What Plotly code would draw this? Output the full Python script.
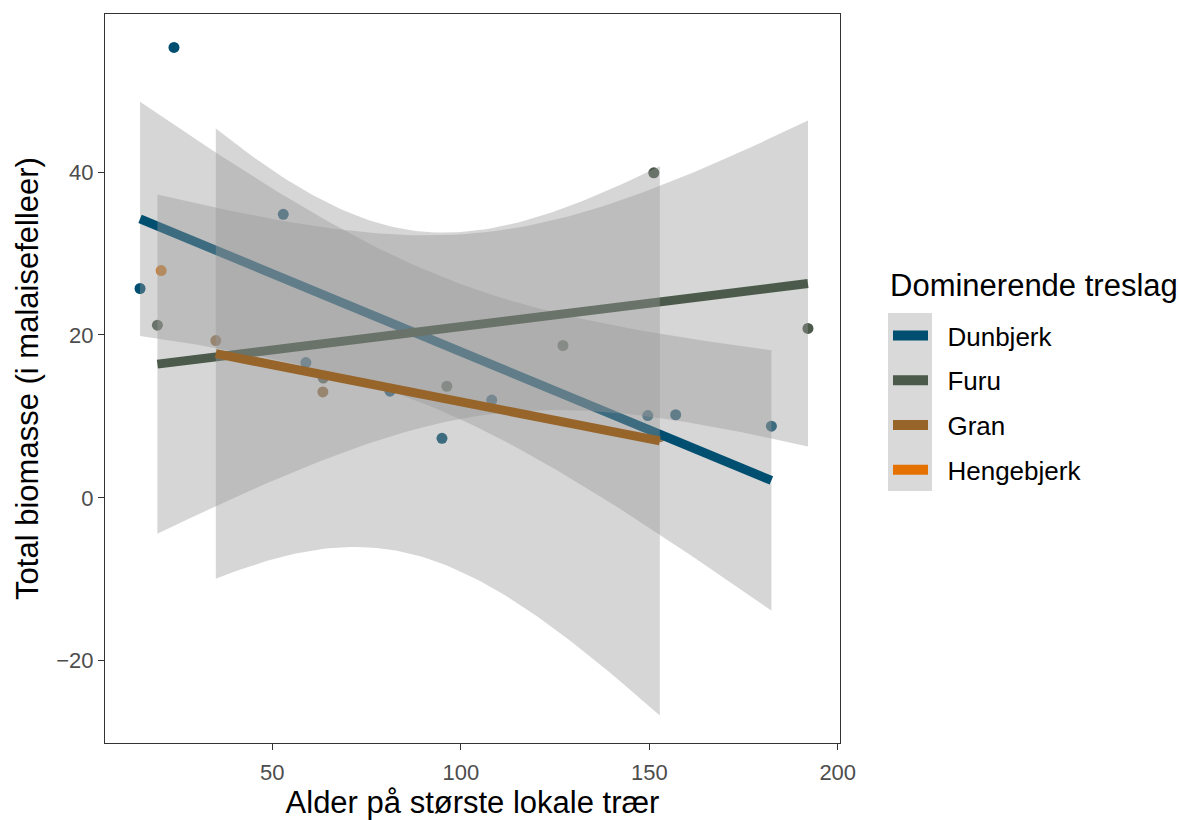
import numpy as np
import plotly.graph_objects as go

# ---------------- data ----------------
species = ["Dunbjerk", "Furu", "Gran", "Hengebjerk"]
species_colors = ["#004F71", "#4B5A4A", "#97652A", "#E57200"]

dunbjerk_age = [14.9, 23.9, 52.9, 58.9, 81.2, 95.0, 108.2, 149.6, 157.0, 182.4]
dunbjerk_biomass = [25.7, 55.3, 34.8, 16.6, 13.1, 7.3, 12.0, 10.1, 10.2, 8.8]

furu_age = [19.5, 63.5, 96.3, 127.1, 151.2, 192.1]
furu_biomass = [21.2, 14.7, 13.7, 18.7, 39.9, 20.8]

gran_age = [35.0, 63.4, 152.8]
gran_biomass = [19.3, 13.0, 7.5]

hengebjerk_age = [20.5]
hengebjerk_biomass = [27.9]

x_ticks = [50, 100, 150, 200]
y_ticks = [-20, 0, 20, 40]

x_title = "Alder på største lokale trær"
y_title = "Total biomasse (i malaisefelleer)"
legend_title = "Dominerende treslag"

groups = {
    "Dunbjerk": (dunbjerk_age, dunbjerk_biomass),
    "Furu": (furu_age, furu_biomass),
    "Gran": (gran_age, gran_biomass),
    "Hengebjerk": (hengebjerk_age, hengebjerk_biomass),
}
color_of = dict(zip(species, species_colors))

# two-sided 95% t quantiles
T975 = {1: 12.7062, 2: 4.3027, 3: 3.1824, 4: 2.7764, 5: 2.5706, 6: 2.4469,
        7: 2.3646, 8: 2.3060, 9: 2.2622, 10: 2.2281, 11: 2.2010, 12: 2.1788}


def lm_band(x, y, n=80):
    x = np.asarray(x, float)
    y = np.asarray(y, float)
    b1, b0 = np.polyfit(x, y, 1)
    xs = np.linspace(x.min(), x.max(), n)
    fit = b0 + b1 * xs
    resid = y - (b0 + b1 * x)
    df = len(x) - 2
    s = np.sqrt((resid ** 2).sum() / df)
    sxx = ((x - x.mean()) ** 2).sum()
    se = s * np.sqrt(1.0 / len(x) + (xs - x.mean()) ** 2 / sxx)
    t = T975[df]
    return xs, fit, fit - t * se, fit + t * se


FONT = "Liberation Sans, Arial, Helvetica, sans-serif"
fig = go.Figure()

# points first (under everything)
for sp in species:
    xs, ys = groups[sp]
    fig.add_trace(go.Scatter(x=xs, y=ys, mode="markers",
                             marker=dict(size=11, color=color_of[sp], line=dict(width=0)),
                             showlegend=False, hoverinfo="x+y", name=sp))

# ribbon + line per group
for sp in species:
    xs, ys = groups[sp]
    if len(xs) < 3:
        continue
    gx, fit, lo, hi = lm_band(xs, ys)
    fig.add_trace(go.Scatter(
        x=np.concatenate([gx, gx[::-1]]), y=np.concatenate([hi, lo[::-1]]),
        mode="lines", fill="toself", fillcolor="rgba(153,153,153,0.4)",
        line=dict(width=0), hoverinfo="skip", showlegend=False))
    fig.add_trace(go.Scatter(x=gx, y=fit, mode="lines",
                             line=dict(color=color_of[sp], width=9),
                             showlegend=False, hoverinfo="skip"))

# legend entries
for sp in species:
    fig.add_trace(go.Scatter(x=[None], y=[None], mode="lines+markers",
                             name="\u00a0\u00a0" + sp, legendgroup=sp,
                             line=dict(color=color_of[sp], width=11),
                             marker=dict(color=color_of[sp], size=5)))

# grey key background of the legend
fig.add_shape(type="rect", xref="paper", yref="paper",
              x0=(888 - 105) / 735, x1=(932 - 105) / 735,
              y0=(743 - 491) / 729, y1=(743 - 313) / 729,
              fillcolor="#D9D9D9", line=dict(width=0), layer="below")

# legend title
fig.add_annotation(text=legend_title, xref="paper", yref="paper",
                   x=(888 - 105) / 735, y=(743 - 285) / 729,
                   xanchor="left", yanchor="middle", showarrow=False,
                   font=dict(family=FONT, size=31, color="black"))

axis_common = dict(showgrid=False, zeroline=False, showline=True, linecolor="#333333",
                   linewidth=1.1, mirror=True, ticks="outside", ticklen=6,
                   tickcolor="#333333", tickwidth=1.1, automargin=False,
                   tickfont=dict(family=FONT, size=22, color="#4D4D4D"))

fig.update_layout(
    width=1179, height=820,
    margin=dict(l=105, r=339, t=14, b=77, autoexpand=False),
    plot_bgcolor="white", paper_bgcolor="white",
    font=dict(family=FONT, color="black"),
    xaxis=dict(range=[5.6, 200.6], tickvals=x_ticks, ticklabelstandoff=4,
               title=dict(text=x_title, font=dict(family=FONT, size=31, color="black"), standoff=6),
               **axis_common),
    yaxis=dict(range=[-30.1, 59.4], tickvals=y_ticks,
               title=dict(text=y_title, font=dict(family=FONT, size=31, color="black"), standoff=8),
               **axis_common),
    legend=dict(font=dict(family=FONT, size=26, color="black"),
                x=(888 - 105) / 735, xanchor="left", y=(743 - 312) / 729, yanchor="top",
                bgcolor="rgba(0,0,0,0)", tracegroupgap=8, itemwidth=35),
)

fig.write_html("out.html")
